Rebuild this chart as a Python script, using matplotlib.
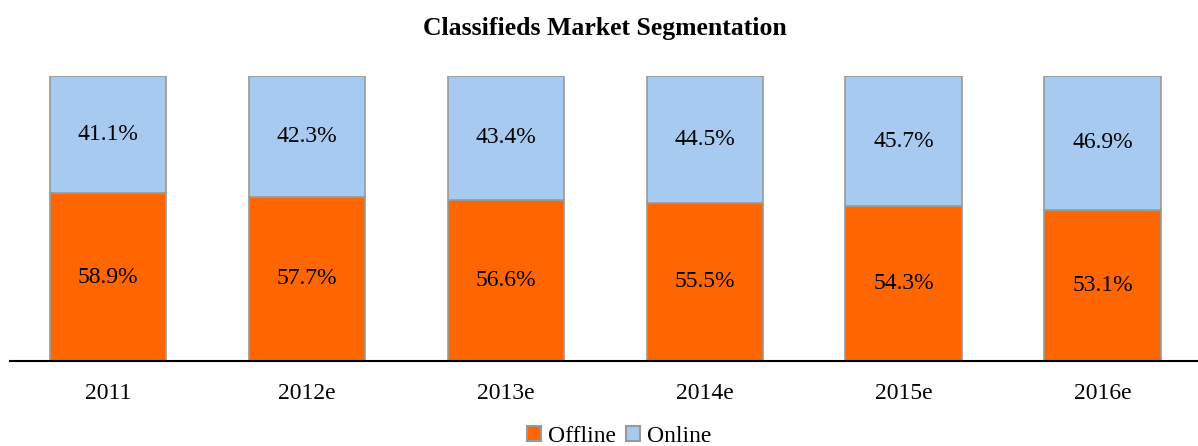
import matplotlib.pyplot as plt
from matplotlib.patches import Patch

years = ["2011", "2012e", "2013e", "2014e", "2015e", "2016e"]
offline = [58.9, 57.7, 56.6, 55.5, 54.3, 53.1]
online = [41.1, 42.3, 43.4, 44.5, 45.7, 46.9]

plt.rcParams['font.family'] = ['Liberation Serif', 'DejaVu Serif']

fig = plt.figure(figsize=(11.98, 4.46), dpi=100)
ax = fig.add_axes([10 / 1198, 85 / 446, 1 - 10 / 1198, 285 / 446])

x = range(len(years))
c_off = "#ff6600"
c_on = "#a6caf0"
edge = "#999999"
ax.bar(x, offline, width=0.585, color=c_off, edgecolor=edge, linewidth=1.2)
ax.bar(x, online, width=0.585, bottom=offline, color=c_on, edgecolor=edge, linewidth=1.2)

for i in x:
    ax.text(i, offline[i] / 2, f"{offline[i]:.1f}%", ha="center", va="center", fontsize=17)
    ax.text(i, offline[i] + online[i] / 2, f"{online[i]:.1f}%", ha="center", va="center", fontsize=17)

ax.set_xlim(-0.493, 5.48)
ax.set_ylim(0, 100)
for s in ["top", "right", "left"]:
    ax.spines[s].set_visible(False)
ax.spines["bottom"].set_linewidth(1.5)
ax.set_yticks([])
ax.set_xticks(list(x))
ax.set_xticklabels(years, fontsize=17)
ax.tick_params(axis="x", length=0, pad=16)

fig.text(0.505, 0.937, "Classifieds Market Segmentation", ha="center", va="center",
         fontsize=18.5, fontweight="bold")

handles = [Patch(facecolor=c_off, edgecolor=edge, linewidth=1.5, label="Offline"),
           Patch(facecolor=c_on, edgecolor=edge, linewidth=1.5, label="Online")]
fig.legend(handles=handles, loc="center", bbox_to_anchor=(0.517, 0.022), ncol=2,
           frameon=False, fontsize=17, handlelength=0.6, handleheight=0.6,
           handletextpad=0.3, columnspacing=0.4, borderpad=0)

fig.savefig("out.png", dpi=100)
